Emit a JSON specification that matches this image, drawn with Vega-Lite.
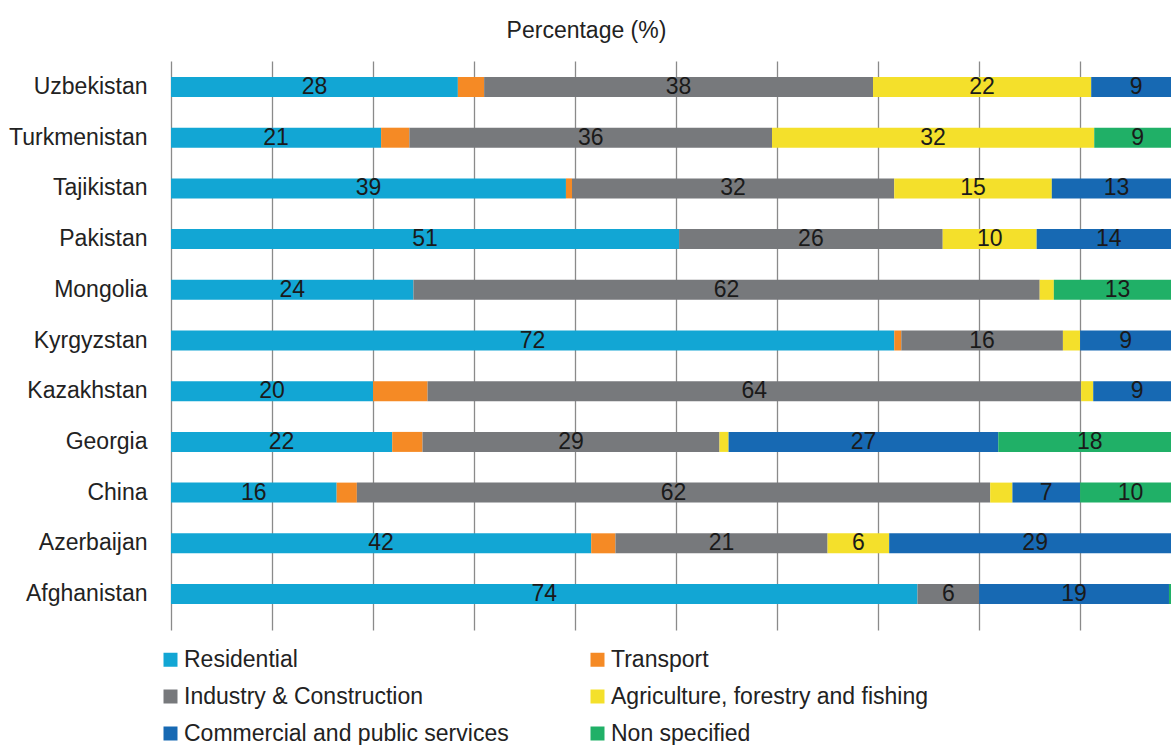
{
  "$schema": "https://vega.github.io/schema/vega-lite/v6.json",
  "width": 1000,
  "height": 569,
  "autosize": {"type": "none"},
  "padding": {"left": 171, "top": 61, "right": 0, "bottom": 115},
  "background": "white",
  "config": {"view": {"stroke": null}, "font": "Liberation Sans"},
  "data": {
    "values": [
      {"country": "Uzbekistan", "sector": "Residential", "k": 1, "value": 28.4, "label": "28"},
      {"country": "Uzbekistan", "sector": "Transport", "k": 2, "value": 2.6, "label": ""},
      {"country": "Uzbekistan", "sector": "Industry & Construction", "k": 3, "value": 38.5, "label": "38"},
      {"country": "Uzbekistan", "sector": "Agriculture, forestry and fishing", "k": 4, "value": 21.6, "label": "22"},
      {"country": "Uzbekistan", "sector": "Commercial and public services", "k": 5, "value": 8.9, "label": "9"},
      {"country": "Turkmenistan", "sector": "Residential", "k": 1, "value": 20.8, "label": "21"},
      {"country": "Turkmenistan", "sector": "Transport", "k": 2, "value": 2.8, "label": ""},
      {"country": "Turkmenistan", "sector": "Industry & Construction", "k": 3, "value": 35.9, "label": "36"},
      {"country": "Turkmenistan", "sector": "Agriculture, forestry and fishing", "k": 4, "value": 31.9, "label": "32"},
      {"country": "Turkmenistan", "sector": "Non specified", "k": 6, "value": 8.6, "label": "9"},
      {"country": "Tajikistan", "sector": "Residential", "k": 1, "value": 39.1, "label": "39"},
      {"country": "Tajikistan", "sector": "Transport", "k": 2, "value": 0.6, "label": ""},
      {"country": "Tajikistan", "sector": "Industry & Construction", "k": 3, "value": 31.9, "label": "32"},
      {"country": "Tajikistan", "sector": "Agriculture, forestry and fishing", "k": 4, "value": 15.6, "label": "15"},
      {"country": "Tajikistan", "sector": "Commercial and public services", "k": 5, "value": 12.8, "label": "13"},
      {"country": "Pakistan", "sector": "Residential", "k": 1, "value": 50.3, "label": "51"},
      {"country": "Pakistan", "sector": "Industry & Construction", "k": 3, "value": 26.1, "label": "26"},
      {"country": "Pakistan", "sector": "Agriculture, forestry and fishing", "k": 4, "value": 9.3, "label": "10"},
      {"country": "Pakistan", "sector": "Commercial and public services", "k": 5, "value": 14.3, "label": "14"},
      {"country": "Mongolia", "sector": "Residential", "k": 1, "value": 24.0, "label": "24"},
      {"country": "Mongolia", "sector": "Industry & Construction", "k": 3, "value": 62.0, "label": "62"},
      {"country": "Mongolia", "sector": "Agriculture, forestry and fishing", "k": 4, "value": 1.4, "label": ""},
      {"country": "Mongolia", "sector": "Non specified", "k": 6, "value": 12.6, "label": "13"},
      {"country": "Kyrgyzstan", "sector": "Residential", "k": 1, "value": 71.6, "label": "72"},
      {"country": "Kyrgyzstan", "sector": "Transport", "k": 2, "value": 0.7, "label": ""},
      {"country": "Kyrgyzstan", "sector": "Industry & Construction", "k": 3, "value": 16.0, "label": "16"},
      {"country": "Kyrgyzstan", "sector": "Agriculture, forestry and fishing", "k": 4, "value": 1.7, "label": ""},
      {"country": "Kyrgyzstan", "sector": "Commercial and public services", "k": 5, "value": 9.0, "label": "9"},
      {"country": "Kazakhstan", "sector": "Residential", "k": 1, "value": 20.0, "label": "20"},
      {"country": "Kazakhstan", "sector": "Transport", "k": 2, "value": 5.4, "label": ""},
      {"country": "Kazakhstan", "sector": "Industry & Construction", "k": 3, "value": 64.7, "label": "64"},
      {"country": "Kazakhstan", "sector": "Agriculture, forestry and fishing", "k": 4, "value": 1.2, "label": ""},
      {"country": "Kazakhstan", "sector": "Commercial and public services", "k": 5, "value": 8.7, "label": "9"},
      {"country": "Georgia", "sector": "Residential", "k": 1, "value": 21.9, "label": "22"},
      {"country": "Georgia", "sector": "Transport", "k": 2, "value": 3.0, "label": ""},
      {"country": "Georgia", "sector": "Industry & Construction", "k": 3, "value": 29.4, "label": "29"},
      {"country": "Georgia", "sector": "Agriculture, forestry and fishing", "k": 4, "value": 0.9, "label": ""},
      {"country": "Georgia", "sector": "Commercial and public services", "k": 5, "value": 26.7, "label": "27"},
      {"country": "Georgia", "sector": "Non specified", "k": 6, "value": 18.1, "label": "18"},
      {"country": "China", "sector": "Residential", "k": 1, "value": 16.4, "label": "16"},
      {"country": "China", "sector": "Transport", "k": 2, "value": 2.0, "label": ""},
      {"country": "China", "sector": "Industry & Construction", "k": 3, "value": 62.7, "label": "62"},
      {"country": "China", "sector": "Agriculture, forestry and fishing", "k": 4, "value": 2.2, "label": ""},
      {"country": "China", "sector": "Commercial and public services", "k": 5, "value": 6.7, "label": "7"},
      {"country": "China", "sector": "Non specified", "k": 6, "value": 10.0, "label": "10"},
      {"country": "Azerbaijan", "sector": "Residential", "k": 1, "value": 41.6, "label": "42"},
      {"country": "Azerbaijan", "sector": "Transport", "k": 2, "value": 2.4, "label": ""},
      {"country": "Azerbaijan", "sector": "Industry & Construction", "k": 3, "value": 21.0, "label": "21"},
      {"country": "Azerbaijan", "sector": "Agriculture, forestry and fishing", "k": 4, "value": 6.1, "label": "6"},
      {"country": "Azerbaijan", "sector": "Commercial and public services", "k": 5, "value": 28.9, "label": "29"},
      {"country": "Afghanistan", "sector": "Residential", "k": 1, "value": 73.9, "label": "74"},
      {"country": "Afghanistan", "sector": "Industry & Construction", "k": 3, "value": 6.1, "label": "6"},
      {"country": "Afghanistan", "sector": "Commercial and public services", "k": 5, "value": 18.8, "label": "19"},
      {"country": "Afghanistan", "sector": "Non specified", "k": 6, "value": 1.2, "label": ""}
    ]
  },
  "encoding": {
    "y": {
      "field": "country",
      "type": "nominal",
      "sort": ["Uzbekistan", "Turkmenistan", "Tajikistan", "Pakistan", "Mongolia", "Kyrgyzstan", "Kazakhstan", "Georgia", "China", "Azerbaijan", "Afghanistan"],
      "scale": {"paddingInner": 0.6055, "paddingOuter": 0.414, "align": 0.381},
      "axis": {
        "title": null,
        "domain": false,
        "ticks": false,
        "grid": false,
        "labelFontSize": 23,
        "labelColor": "#222222",
        "labelPadding": 24,
        "labelFont": "Liberation Sans"
      }
    }
  },
  "layer": [
    {
      "mark": {"type": "bar", "clip": true},
      "encoding": {
        "x": {
          "field": "value",
          "type": "quantitative",
          "stack": "zero",
          "scale": {"domain": [0, 99], "nice": false, "zero": true},
          "axis": {
            "orient": "top",
            "values": [0, 10, 20, 30, 40, 50, 60, 70, 80, 90],
            "labels": false,
            "ticks": false,
            "domain": false,
            "grid": true,
            "gridColor": "#8a8a8a",
            "gridWidth": 1.3,
            "title": "Percentage (%)",
            "titleFont": "Liberation Sans",
            "titleFontSize": 23,
            "titleFontWeight": "normal",
            "titleColor": "#222222",
            "titleAlign": "center",
            "titleBaseline": "alphabetic",
            "titleX": 415,
            "titleY": -24
          }
        },
        "color": {
          "field": "sector",
          "type": "nominal",
          "scale": {
            "domain": ["Residential", "Industry & Construction", "Commercial and public services", "Transport", "Agriculture, forestry and fishing", "Non specified"],
            "range": ["#12A6D4", "#77797C", "#1769B3", "#F58A25", "#F4E02B", "#20B067"]
          },
          "legend": {
            "title": null,
            "orient": "none",
            "legendX": -12,
            "legendY": 587,
            "columns": 2,
            "columnPadding": 77,
            "rowPadding": 13,
            "padding": 0,
            "symbolType": "square",
            "symbolSize": 196,
            "symbolStrokeWidth": 0,
            "symbolOpacity": 1,
            "labelFontSize": 23,
            "labelFont": "Liberation Sans",
            "labelColor": "#222222",
            "labelOffset": 2,
            "labelLimit": 500
          }
        },
        "order": {"field": "k", "type": "quantitative"}
      }
    },
    {
      "mark": {"type": "text", "fontSize": 23, "font": "Liberation Sans", "color": "#1a1a1a", "baseline": "middle", "align": "center"},
      "encoding": {
        "x": {"field": "value", "type": "quantitative", "stack": "zero", "bandPosition": 0.5},
        "detail": {"field": "sector", "type": "nominal"},
        "order": {"field": "k", "type": "quantitative"},
        "text": {"field": "label", "type": "nominal"}
      }
    }
  ]
}
